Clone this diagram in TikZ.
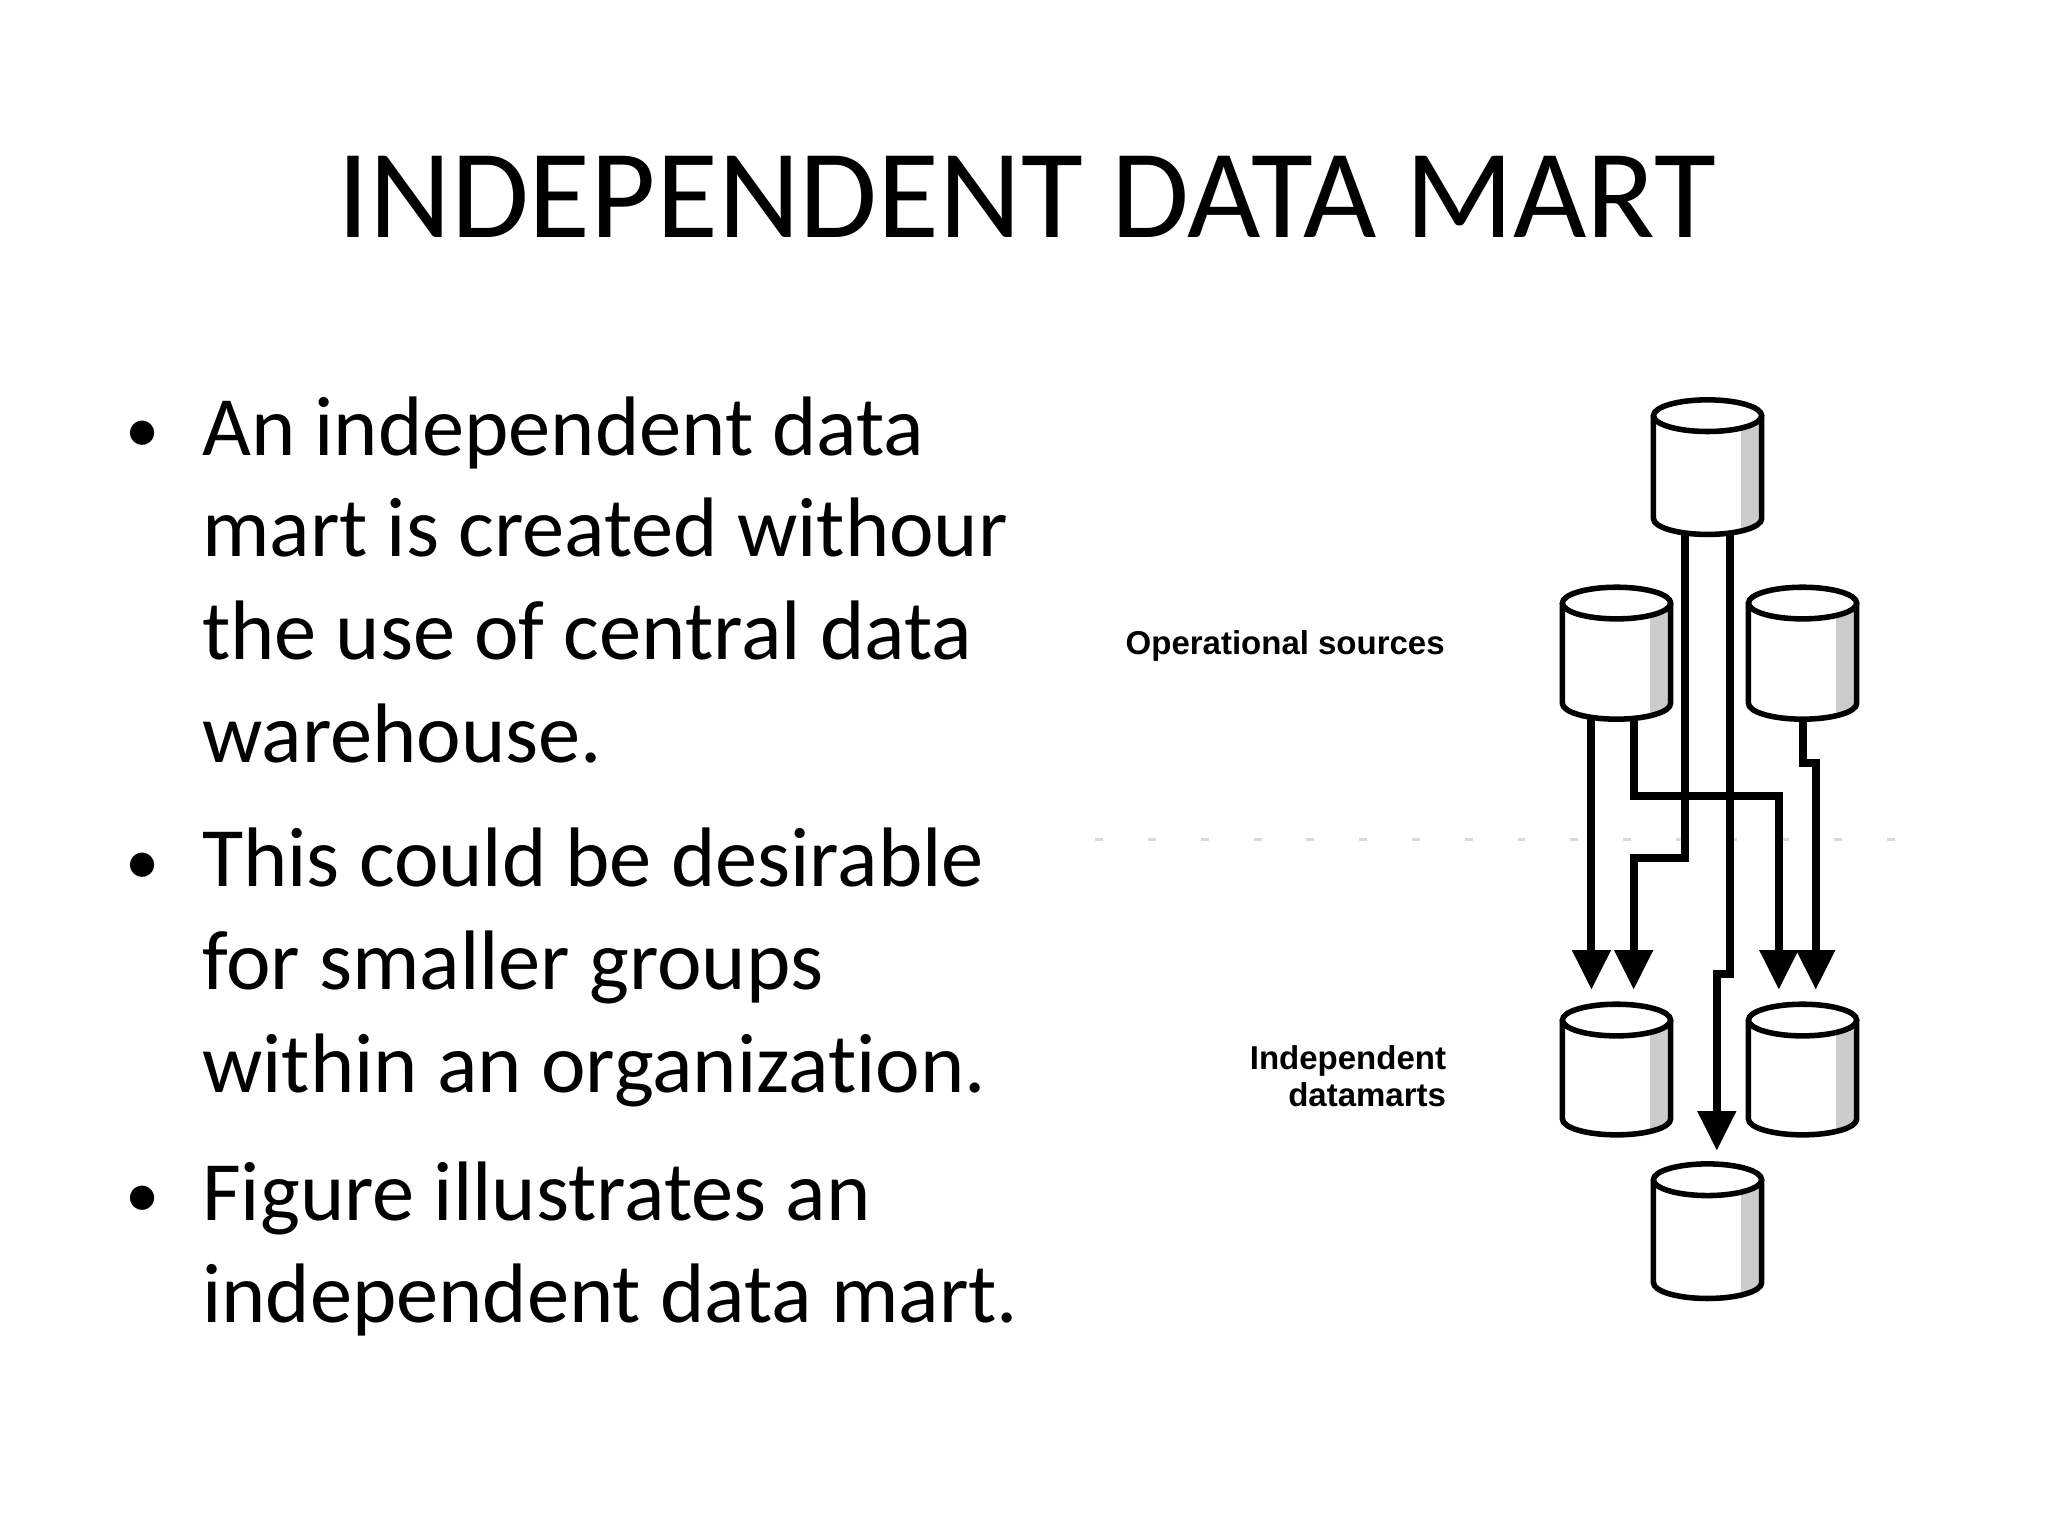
\documentclass[tikz,border=0pt]{standalone}
\usepackage{fontspec}
\setmainfont{Carlito}[RawFeature=-liga]
\newfontfamily\lab{Liberation Sans}
\usetikzlibrary{calc,arrows.meta}
\newcommand\dbcyl[4]{% name, cx, top, bottom
  \node[minimum width=82pt,minimum height=#4-#3,inner sep=0pt] (#1) at (#2,{(#3+#4)/2}) {};
  \begin{scope}
    \clip (#2-41,#3) -- (#2-41,#4) arc[start angle=180,end angle=360,x radius=41pt,y radius=12pt] -- (#2+41,#3) -- cycle;
    \fill[white] (#2-41,#3-20) rectangle (#2+41,#4+20);
    \fill[gray!40] (#2+25,#3) rectangle (#2+41,#4+20);
  \end{scope}
  \draw[line width=4.2pt,fill=white] (#2,#3) ellipse[x radius=41pt,y radius=12pt];
  \draw[line width=4.2pt] (#2-41,#3) -- (#2-41,#4) arc[start angle=180,end angle=360,x radius=41pt,y radius=12pt] -- (#2+41,#3);
}
\tikzset{arr/.style={line width=6pt,-{Triangle[length=30pt,width=28pt]}},
  ln/.style={line width=6pt}}
\begin{document}
\begin{tikzpicture}[x=1pt,y=-1pt]
\useasboundingbox[fill=white] (0,0) rectangle (1552,1164);
\node[anchor=base,font=\fontsize{96}{110}\selectfont] (title) at (778,180) {INDEPENDENT DATA MART};
\begin{scope}[every node/.style={anchor=base west,inner sep=0pt,font=\fontsize{64}{74}\selectfont}]
\node (l1) at (153,345) {An independent data};
\node (l2) at (153,422) {mart is created withour};
\node (l3) at (153,500) {the use of central data};
\node (l4) at (153,578) {warehouse.};
\node (l5) at (153,672) {This could be desirable};
\node (l6) at (153,750) {for smaller groups};
\node (l7) at (153,828) {within an organization.};
\node (l8) at (153,925) {Figure illustrates an};
\node (l9) at (153,1002) {independent data mart.};
\end{scope}
\begin{scope}[every node/.style={anchor=base west,inner sep=0pt,font=\fontsize{52}{60}\selectfont}]
\node (b1) at (95,343) {•};
\node (b2) at (95,670) {•};
\node (b3) at (95,923) {•};
\end{scope}
\draw[gray!30,line width=2pt,dash pattern=on 6pt off 34pt] (830,636) -- (1450,636);
\node[font=\lab\bfseries\fontsize{25}{28}\selectfont,anchor=base east,inner sep=0pt] (ops) at (1095,496) {Operational sources};
\node[font=\lab\bfseries\fontsize{25}{28}\selectfont,align=right,anchor=north east,inner sep=0pt] (idm) at (1096,792) {Independent\\datamarts};
\begin{scope}[xshift=-12pt]
\dbcyl{top}{1306}{315}{393}
\dbcyl{os1}{1237}{457}{533}
\dbcyl{os2}{1378}{457}{533}
\draw[ln] ($(top.south)+(-17,12)$) |- (1250,650);
\draw[arr] (1250,647) -- (1250,750);
\draw[ln] ($(top.south)+(17,12)$) -- (1323,738) -- (1313,738);
\draw[arr] (1313,735) -- (1313,872);
\draw[arr] ($(os1.south)+(-19,12)$) -- (1218,750);
\draw[ln] ($(os1.south)+(13,12)$) |- (1360,603);
\draw[arr] (1360,600) -- (1360,750);
\draw[ln] ($(os2.south)+(0,12)$) |- (1388,578);
\draw[arr] (1388,575) -- (1388,750);
\dbcyl{dm1}{1237}{773}{848}
\dbcyl{dm2}{1378}{773}{848}
\dbcyl{dm3}{1306}{894}{972}
\end{scope}
\end{tikzpicture}
\end{document}
